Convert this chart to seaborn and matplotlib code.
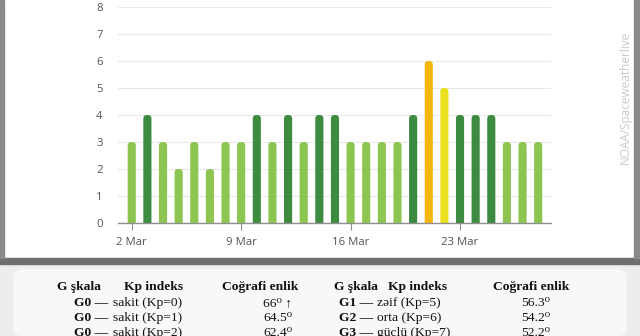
import matplotlib
matplotlib.use("Agg")
import matplotlib.pyplot as plt
import seaborn as sns
import pandas as pd
from matplotlib.patches import Rectangle, FancyBboxPatch

# ---- data ----
days = list(range(2, 29))  # 2 Mar .. 28 Mar
kp = [3, 4, 3, 2, 3, 2, 3, 3, 4, 3, 4, 3, 4, 4, 3, 3, 3, 3, 4, 6, 5, 4, 4, 4, 3, 3, 3]
tick_days = [2, 9, 16, 23]
tick_labels = ["2 Mar", "9 Mar", "16 Mar", "23 Mar"]
yticks = [0, 1, 2, 3, 4, 5, 6, 7, 8]
palette = {2: "#8cc650", 3: "#8cc650", 4: "#3d8b41", 5: "#ece11f", 6: "#f5b60c"}

hdr = ["G şkala", "Kp indeks", "Coğrafi enlik"]
left_g = ["G0 —", "G0 —", "G0 —"]
left_kp = ["sakit (Kp=0)", "sakit (Kp=1)", "sakit (Kp=2)"]
left_lat = ["66⁰ ↑", "64.5⁰", "62.4⁰"]
right_g = ["G1 —", "G2 —", "G3 —"]
right_kp = ["zəif (Kp=5)", "orta (Kp=6)", "güclü (Kp=7)"]
right_lat = ["56.3⁰", "54.2⁰", "52.2⁰"]

df = pd.DataFrame({"day": [str(d) for d in days], "kp": kp})

W, H = 640, 336
fig = plt.figure(figsize=(W / 100, H / 100), dpi=100)
fig.patch.set_facecolor("white")

def fx(px):
    return px / W

def fy(py):
    return 1 - py / H

# background frames
fig.add_artist(Rectangle((0, 0), 1, fy(262), transform=fig.transFigure, color="#ededed", zorder=0))
fig.add_artist(FancyBboxPatch((fx(14), 0), fx(612), fy(270), transform=fig.transFigure,
                              boxstyle="round,pad=0,rounding_size=0.02", color="#f8f8f8", zorder=0.5))
fig.add_artist(Rectangle((0, fy(264)), 1, fy(258) - fy(264), transform=fig.transFigure, color="#6f6f6f", zorder=1))
fig.add_artist(Rectangle((0, fy(258)), fx(4), 1 - fy(258), transform=fig.transFigure, color="#8a8a8a", zorder=1))
fig.add_artist(Rectangle((fx(634), fy(258)), fx(6), 1 - fy(258), transform=fig.transFigure, color="#8a8a8a", zorder=1))

ax = fig.add_axes([fx(118), fy(223), fx(551 - 118), fy(7) - fy(223)])
ax.set_facecolor("none")
sns.barplot(data=df, x="day", y="kp", hue="kp", palette=palette, width=0.52,
            legend=False, ax=ax, order=[str(d) for d in days], saturation=1)

# round the bar tops
ppx = 15.63  # px per x unit
ppy = 27.0   # px per y unit
for p in list(ax.patches):
    x0, w, h = p.get_x(), p.get_width(), p.get_height()
    fc = p.get_facecolor()
    p.set_visible(False)
    fb = FancyBboxPatch((x0, -0.5), w, h + 0.5,
                        boxstyle="round,pad=0,rounding_size=%f" % (w / 2 * 0.9),
                        mutation_aspect=ppx / ppy, facecolor=fc, edgecolor="none", zorder=2)
    ax.add_patch(fb)

ax.set_xlim(-0.88, 26.82)
ax.set_ylim(0, 8)
ax.set_yticks(yticks)
ax.set_yticklabels([str(v) for v in yticks])
ax.set_xticks([days.index(d) for d in tick_days])
ax.set_xticklabels(tick_labels)
ax.grid(axis="y", color="#e9e9e9", linewidth=0.8, zorder=0)
ax.set_axisbelow(True)
for s in ["top", "right", "left"]:
    ax.spines[s].set_visible(False)
ax.spines["bottom"].set_color("#8f8f8f")
ax.spines["bottom"].set_linewidth(1.0)
ax.spines["bottom"].set_zorder(3)
ax.tick_params(axis="y", length=0, pad=11, labelsize=8.2, labelcolor="#555555")
ax.tick_params(axis="x", length=5, width=0.8, color="#8f8f8f", pad=5, labelsize=8.2, labelcolor="#555555")
for lab in ax.get_xticklabels() + ax.get_yticklabels():
    lab.set_family("Open Sans")
ax.set_xlabel("")
ax.set_ylabel("")

fig.text(fx(625), fy(97), "NOAA/Spaceweatherlive", rotation=90, ha="center", va="center",
         color="#c9c9c9", fontsize=8.5, family="Open Sans")

# table text
serif = ["Liberation Serif", "DejaVu Serif"]
fs = 9.7
def t(px, py, s, ha="left", bold=False):
    fig.text(fx(px), fy(py), s, ha=ha, va="center", fontsize=fs, family=serif,
             fontweight="bold" if bold else "normal", color="#111111", zorder=5)

rows_y = [303, 318, 333]
# left block
t(57, 287, hdr[0], bold=True)
t(183, 287, hdr[1], ha="right", bold=True)
t(260, 287, hdr[2], ha="center", bold=True)
for i, y in enumerate(rows_y):
    t(108, y, left_g[i], ha="right", bold=True)
    t(113, y, left_kp[i])
    t(263, y, left_lat[i])
# right block
t(334, 287, hdr[0], bold=True)
t(447, 287, hdr[1], ha="right", bold=True)
t(531, 287, hdr[2], ha="center", bold=True)
for i, y in enumerate(rows_y):
    t(373, y, right_g[i], ha="right", bold=True)
    t(377, y, right_kp[i])
    t(521, y, right_lat[i])

fig.savefig("out.png", dpi=100)
